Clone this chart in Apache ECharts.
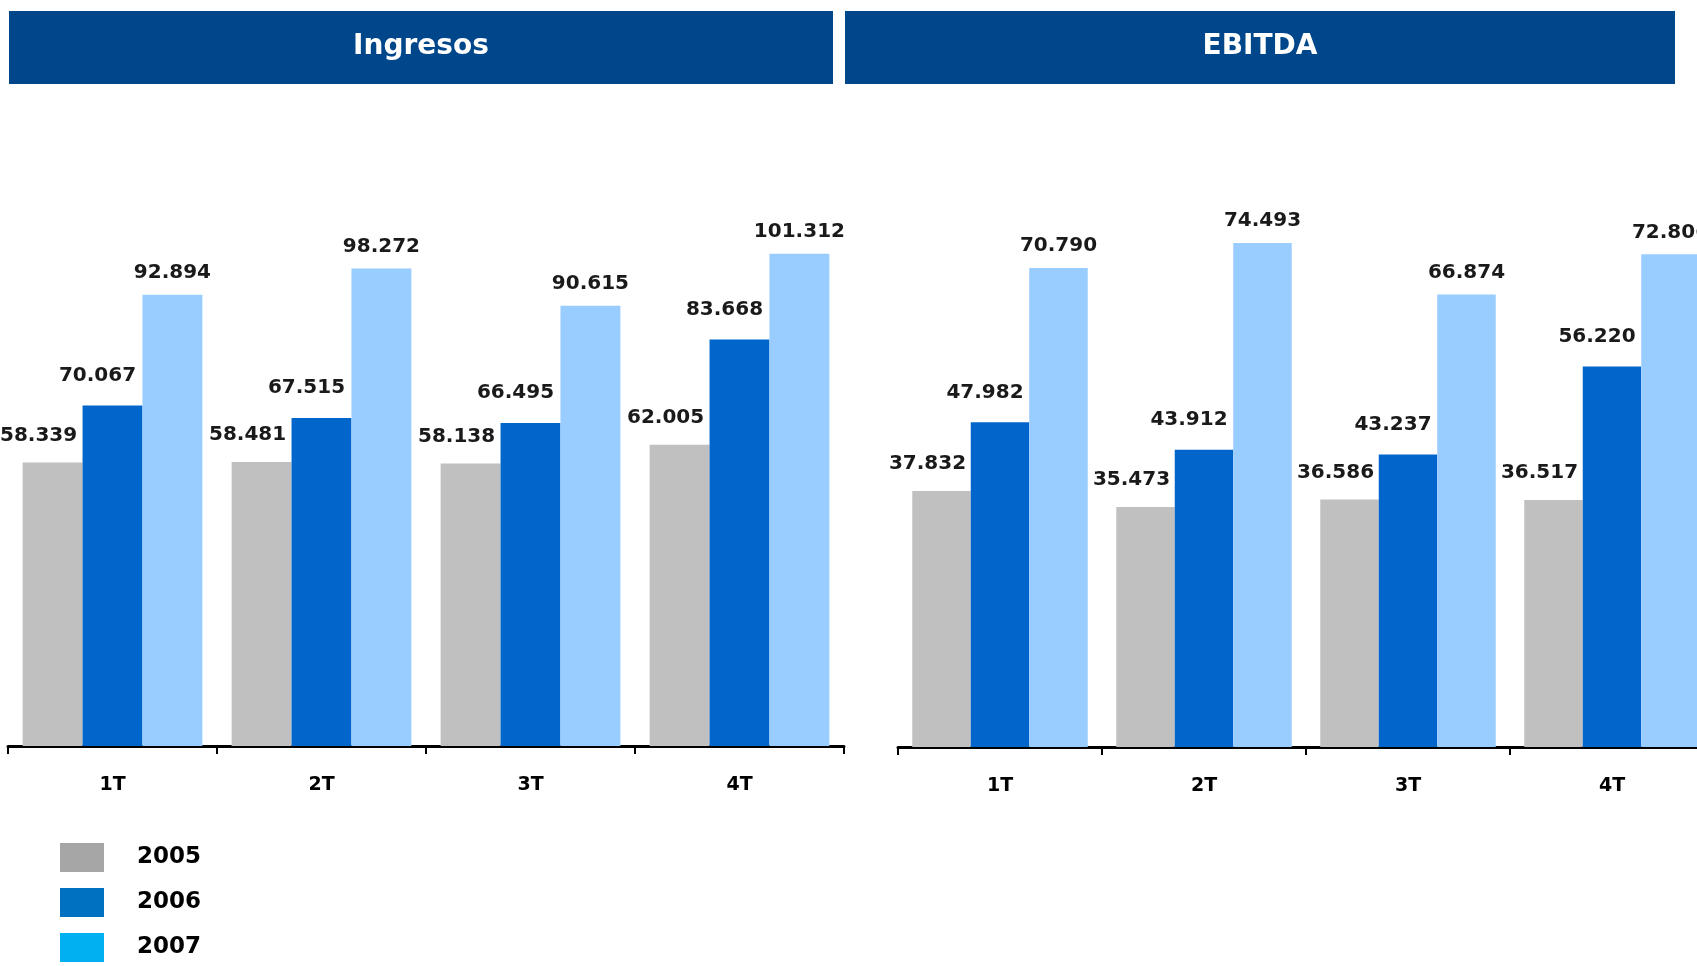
<!DOCTYPE html>
<html>
<head>
<meta charset="utf-8">
<script src="https://cdn.jsdelivr.net/npm/echarts@6/dist/echarts.min.js"></script>
<style>
  html, body { margin: 0; padding: 0; background: #fff; overflow: hidden; }
  #chart { width: 1697px; height: 966px; }
</style>
</head>
<body>
<div id="chart"></div>
<script>
// datos
const categories = ["1T", "2T", "3T", "4T"];
const years = ["2005", "2006", "2007"];
const ingresos2005 = [58.339, 58.481, 58.138, 62.005];
const ingresos2006 = [70.067, 67.515, 66.495, 83.668];
const ingresos2007 = [92.894, 98.272, 90.615, 101.312];
const ebitda2005 = [37.832, 35.473, 36.586, 36.517];
const ebitda2006 = [47.982, 43.912, 43.237, 56.220];
const ebitda2007 = [70.790, 74.493, 66.874, 72.806];

const barColors = ["#c0c0c0", "#0066cc", "#99ccff"];
const legendColors = ["#a6a6a6", "#0070c0", "#00b0f0"];
const font = "DejaVu Sans";

// label offsets por serie (gris y azul van desplazados a la izquierda)
const labelCfg = [
  { distance: 17, offset: [-14, 0] },
  { distance: 20, offset: [-15, 0] },
  { distance: 12, offset: [0, 0] },
];

function makeSeries(name, data, idx, axisIdx) {
  return {
    name: name,
    type: "bar",
    xAxisIndex: axisIdx,
    yAxisIndex: axisIdx,
    data: data,
    barGap: "0%",
    barCategoryGap: "14%",
    itemStyle: { color: barColors[idx] },
    label: {
      show: true,
      position: "top",
      distance: labelCfg[idx].distance,
      offset: labelCfg[idx].offset,
      color: "#1a1a1a",
      fontFamily: font,
      fontWeight: "bold",
      fontSize: 20,
      formatter: (p) => p.value.toFixed(3),
    },
  };
}

function makeXAxis(gridIndex) {
  return {
    type: "category",
    gridIndex: gridIndex,
    data: categories,
    axisLine: { show: true, lineStyle: { color: "#000", width: 3 } },
    axisTick: { show: true, inside: false, length: 8, lineStyle: { color: "#000", width: 2 } },
    axisLabel: {
      color: "#000",
      fontFamily: font,
      fontWeight: "bold",
      fontSize: 19,
      margin: 30,
    },
    splitLine: { show: false },
  };
}

function makeYAxis(gridIndex, max) {
  return {
    type: "value",
    gridIndex: gridIndex,
    min: 0,
    max: max,
    show: false,
    splitLine: { show: false },
  };
}

function header(x, w, text) {
  return {
    type: "group",
    children: [
      {
        type: "rect",
        shape: { x: x, y: 11, width: w, height: 73 },
        style: { fill: "#00468b" },
      },
      {
        type: "text",
        x: x + w / 2,
        y: 47,
        style: {
          text: text,
          fill: "#fff",
          font: "bold 28px " + font,
          textAlign: "center",
          textVerticalAlign: "middle",
        },
      },
    ],
  };
}

const chart = echarts.init(document.getElementById("chart"));
chart.setOption({
  animation: false,
  backgroundColor: "#fff",
  grid: [
    { left: 8, width: 836, top: 163, bottom: 220, outerBoundsMode: "none" },
    { left: 898, width: 816, top: 138, bottom: 219, outerBoundsMode: "none" },
  ],
  xAxis: [makeXAxis(0), makeXAxis(1)],
  yAxis: [makeYAxis(0, 120), makeYAxis(1, 90)],
  legend: {
    orient: "vertical",
    left: 60,
    top: 843,
    padding: 0,
    height: 123,
    itemWidth: 44,
    itemHeight: 29,
    itemGap: 16,
    icon: "rect",
    selectedMode: false,
    textStyle: {
      color: "#000",
      fontFamily: font,
      fontWeight: "bold",
      fontSize: 23,
      padding: [16, 0, 0, 28],
    },
    data: years.map((y, i) => ({ name: y, itemStyle: { color: legendColors[i] } })),
  },
  graphic: [header(9, 824, "Ingresos"), header(845, 830, "EBITDA")],
  series: [
    makeSeries("2005", ingresos2005, 0, 0),
    makeSeries("2006", ingresos2006, 1, 0),
    makeSeries("2007", ingresos2007, 2, 0),
    makeSeries("2005", ebitda2005, 0, 1),
    makeSeries("2006", ebitda2006, 1, 1),
    makeSeries("2007", ebitda2007, 2, 1),
  ],
});
</script>
</body>
</html>
